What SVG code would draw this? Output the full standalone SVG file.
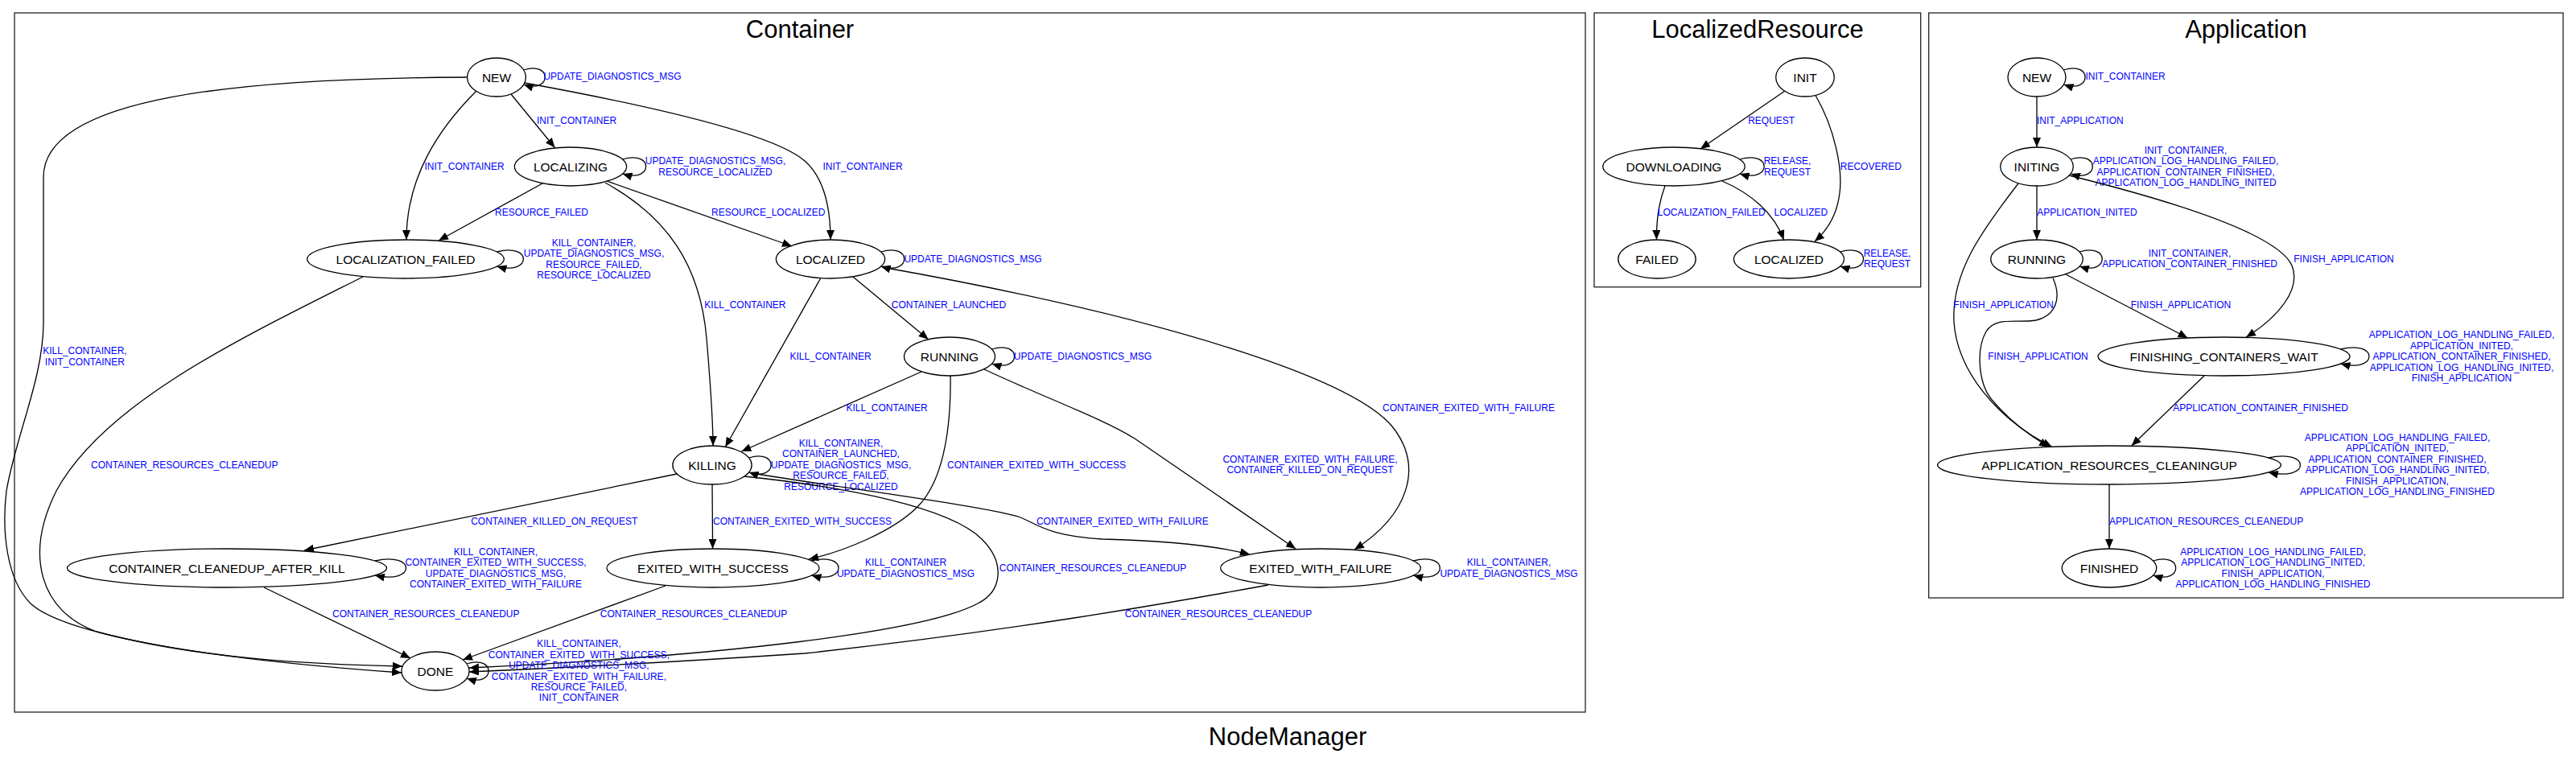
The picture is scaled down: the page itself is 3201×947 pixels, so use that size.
<svg xmlns="http://www.w3.org/2000/svg" width="3201" height="947" viewBox="0 0 3201 947">
<defs>
<marker id="ah" markerUnits="userSpaceOnUse" markerWidth="12" markerHeight="10" refX="12" refY="5" orient="auto">
<path d="M0,0 L12,5 L0,10 z" fill="#000"/>
</marker>
<style>
.cl{fill:none;stroke:#222;stroke-width:1.3}
.tt{font-family:"Liberation Sans",Arial,sans-serif;font-size:31px;fill:#000;text-anchor:middle}
.n ellipse{fill:none;stroke:#000;stroke-width:1.3}
.n text{font-family:"Liberation Sans",Arial,sans-serif;font-size:15.5px;fill:#000;text-anchor:middle}
.e{fill:none;stroke:#000;stroke-width:1.3;marker-end:url(#ah)}
.el{font-family:"Liberation Sans",Arial,sans-serif;font-size:12px;fill:#0000ff;text-anchor:middle}
</style>
</defs>
<rect width="3201" height="947" fill="#fff"/>

<g id="cluster-container">
<rect class="cl" x="18" y="16" width="1952" height="869"/>
<text class="tt" x="994" y="46.7">Container</text>
</g>
<g id="cluster-localizedresource">
<rect class="cl" x="1981" y="16" width="405.7" height="340.7"/>
<text class="tt" x="2184" y="46.7">LocalizedResource</text>
</g>
<g id="cluster-application">
<rect class="cl" x="2396.7" y="16" width="788.3" height="727"/>
<text class="tt" x="2791" y="46.7">Application</text>
</g>
<text class="tt" x="1600" y="926">NodeManager</text>

<g id="connectors">
<!-- Container -->
<path class="e" d="M650.7,87 C686,75 686,117 650.7,105"/>
<text class="el" x="761" y="99.3">UPDATE_DIAGNOSTICS_MSG</text>

<path class="e" d="M635,117 L689.5,183.5"/>
<text class="el" x="716.5" y="154">INIT_CONTAINER</text>

<path class="e" d="M592,113 C545,160 505,220 505,298"/>
<text class="el" x="577" y="211">INIT_CONTAINER</text>

<path class="e" d="M580,96 C300,97 54,120 54,220 L54,400 C54,470 20,540 8,610 C2,660 8,720 38,750 C70,780 200,815 499,836"/>
<text class="el"><tspan x="105.4" y="440.3">KILL_CONTAINER,</tspan><tspan x="105.4" y="453.6">INIT_CONTAINER</tspan></text>

<path class="e" d="M652,103 C800,130 960,165 1000,200 C1025,222 1032,262 1032,298"/>
<text class="el" x="1072" y="211">INIT_CONTAINER</text>

<path class="e" d="M773.5,198 C812.3,186 812.3,228 773.5,216"/>
<text class="el"><tspan x="889" y="204.3">UPDATE_DIAGNOSTICS_MSG,</tspan><tspan x="889" y="217.6">RESOURCE_LOCALIZED</tspan></text>

<path class="e" d="M674,228 L545,299"/>
<text class="el" x="673" y="267.6">RESOURCE_FAILED</text>

<path class="e" d="M754,225 L984,306"/>
<text class="el" x="954.7" y="267.6">RESOURCE_LOCALIZED</text>

<path class="e" d="M752,227 C830,270 870,330 878,420 C883,480 886,520 886,554"/>
<text class="el" x="925.9" y="383.3">KILL_CONTAINER</text>

<path class="e" d="M617.4,313 C661.3,301 661.3,343 617.4,331"/>
<text class="el"><tspan x="738" y="306">KILL_CONTAINER,</tspan><tspan x="738" y="319.3">UPDATE_DIAGNOSTICS_MSG,</tspan><tspan x="738" y="332.6">RESOURCE_FAILED,</tspan><tspan x="738" y="345.9">RESOURCE_LOCALIZED</tspan></text>

<path class="e" d="M1094.7,313 C1133.3,301 1133.3,343 1094.7,331"/>
<text class="el" x="1209" y="326">UPDATE_DIAGNOSTICS_MSG</text>

<path class="e" d="M1060,344 L1153.6,421.7"/>
<text class="el" x="1179" y="383.3">CONTAINER_LAUNCHED</text>

<path class="e" d="M1019.6,346 L901.3,555.5"/>
<text class="el" x="1032" y="447">KILL_CONTAINER</text>

<path class="e" d="M1096,332 C1450,395 1680,470 1730,530 C1770,580 1750,640 1683,683"/>
<text class="el" x="1825" y="511">CONTAINER_EXITED_WITH_FAILURE</text>

<path class="e" d="M1232.4,434 C1269.9,422 1269.9,464 1232.4,452"/>
<text class="el" x="1345.4" y="447">UPDATE_DIAGNOSTICS_MSG</text>

<path class="e" d="M1145,462 L921.4,561"/>
<text class="el" x="1102" y="511">KILL_CONTAINER</text>

<path class="e" d="M1181,467 C1182,540 1170,600 1140,630 C1110,660 1050,685 1005,695"/>
<text class="el" x="1288" y="582.3">CONTAINER_EXITED_WITH_SUCCESS</text>

<path class="e" d="M1223,459 C1300,495 1370,520 1410,545 L1610,682"/>
<text class="el"><tspan x="1628" y="575">CONTAINER_EXITED_WITH_FAILURE,</tspan><tspan x="1628" y="588.3">CONTAINER_KILLED_ON_REQUEST</tspan></text>

<path class="e" d="M930.5,569 C967.3,557 967.3,599 930.5,587"/>
<text class="el"><tspan x="1045" y="555">KILL_CONTAINER,</tspan><tspan x="1045" y="568.4">CONTAINER_LAUNCHED,</tspan><tspan x="1045" y="581.8">UPDATE_DIAGNOSTICS_MSG,</tspan><tspan x="1045" y="595.2">RESOURCE_FAILED,</tspan><tspan x="1045" y="608.6">RESOURCE_LOCALIZED</tspan></text>

<path class="e" d="M841,589 L378,684"/>
<text class="el" x="688.8" y="651.6">CONTAINER_KILLED_ON_REQUEST</text>

<path class="e" d="M885,602 L885.6,682"/>
<text class="el" x="997" y="651.6">CONTAINER_EXITED_WITH_SUCCESS</text>

<path class="e" d="M934,588 C1050,607 1230,630 1268,643 C1290,652 1300,665 1370,670 C1450,672 1510,678 1553,689"/>
<text class="el" x="1394.8" y="651.6">CONTAINER_EXITED_WITH_FAILURE</text>

<path class="e" d="M925,592 C1050,605 1180,630 1220,670 C1250,700 1245,735 1215,750 C1150,785 900,815 583,830"/>
<text class="el" x="1358" y="710.3">CONTAINER_RESOURCES_CLEANEDUP</text>

<path class="e" d="M1008.4,697 C1053.2,685 1053.2,727 1008.4,715"/>
<text class="el"><tspan x="1125.5" y="703.3">KILL_CONTAINER</tspan><tspan x="1125.5" y="716.7">UPDATE_DIAGNOSTICS_MSG</tspan></text>

<path class="e" d="M827,728 L575,820"/>
<text class="el" x="862" y="767">CONTAINER_RESOURCES_CLEANEDUP</text>

<path class="e" d="M1756.2,697 C1800.3,685 1800.3,727 1756.2,715"/>
<text class="el"><tspan x="1875" y="703.3">KILL_CONTAINER,</tspan><tspan x="1875" y="716.7">UPDATE_DIAGNOSTICS_MSG</tspan></text>

<path class="e" d="M1576,727 C1450,750 1250,785 1000,812 C850,822 700,830 583,835"/>
<text class="el" x="1514" y="767">CONTAINER_RESOURCES_CLEANEDUP</text>

<path class="e" d="M466,697 C517.3,685 517.3,727 466,715"/>
<text class="el"><tspan x="616" y="690">KILL_CONTAINER,</tspan><tspan x="616" y="703.4">CONTAINER_EXITED_WITH_SUCCESS,</tspan><tspan x="616" y="716.8">UPDATE_DIAGNOSTICS_MSG,</tspan><tspan x="616" y="730.2">CONTAINER_EXITED_WITH_FAILURE</tspan></text>

<path class="e" d="M328,730 L510,818"/>
<text class="el" x="529.3" y="767">CONTAINER_RESOURCES_CLEANEDUP</text>

<path class="e" d="M580,825 C616.1,813 616.1,855 580,843"/>
<text class="el"><tspan x="719.4" y="804.3">KILL_CONTAINER,</tspan><tspan x="719.4" y="817.7">CONTAINER_EXITED_WITH_SUCCESS,</tspan><tspan x="719.4" y="831.1">UPDATE_DIAGNOSTICS_MSG,</tspan><tspan x="719.4" y="844.5">CONTAINER_EXITED_WITH_FAILURE,</tspan><tspan x="719.4" y="857.9">RESOURCE_FAILED,</tspan><tspan x="719.4" y="871.3">INIT_CONTAINER</tspan></text>

<path class="e" d="M451,344 C300,420 130,500 70,610 C30,690 50,760 120,785 C250,820 400,826 500,828"/>
<text class="el" x="229.3" y="581.6">CONTAINER_RESOURCES_CLEANEDUP</text>

<!-- LocalizedResource -->
<path class="e" d="M2218,113 L2113,185"/>
<text class="el" x="2201.2" y="154">REQUEST</text>

<path class="e" d="M2256,118.5 C2280,160 2290,210 2286,240 C2283,265 2272,285 2255,300"/>
<text class="el" x="2324.8" y="211">RECOVERED</text>

<path class="e" d="M2161.8,198 C2202.3,186 2202.3,228 2161.8,216"/>
<text class="el"><tspan x="2221" y="204.3">RELEASE,</tspan><tspan x="2221" y="217.6">REQUEST</tspan></text>

<path class="e" d="M2069,231 C2062,250 2058,270 2058.5,298"/>
<text class="el" x="2126.7" y="267.6">LOCALIZATION_FAILED</text>

<path class="e" d="M2140,225 C2175,240 2205,265 2216.5,298"/>
<text class="el" x="2237.8" y="267.6">LOCALIZED</text>

<path class="e" d="M2286.5,313 C2325.2,301 2325.2,343 2286.5,331"/>
<text class="el"><tspan x="2345" y="318.6">RELEASE,</tspan><tspan x="2345" y="332">REQUEST</tspan></text>

<!-- Application -->
<path class="e" d="M2564.4,87 C2599.9,75 2599.9,117 2564.4,105"/>
<text class="el" x="2641" y="99.3">INIT_CONTAINER</text>

<path class="e" d="M2531,120 L2531,183"/>
<text class="el" x="2584.8" y="154">INIT_APPLICATION</text>

<path class="e" d="M2573,198 C2609.4,186 2609.4,228 2573,216"/>
<text class="el"><tspan x="2716" y="191">INIT_CONTAINER,</tspan><tspan x="2716" y="204.4">APPLICATION_LOG_HANDLING_FAILED,</tspan><tspan x="2716" y="217.8">APPLICATION_CONTAINER_FINISHED,</tspan><tspan x="2716" y="231.2">APPLICATION_LOG_HANDLING_INITED</tspan></text>

<path class="e" d="M2531,231 L2531,298"/>
<text class="el" x="2593.4" y="267.6">APPLICATION_INITED</text>

<path class="e" d="M2571,218 C2700,250 2830,290 2848,330 C2860,360 2830,395 2791,419"/>
<text class="el" x="2912.5" y="326">FINISH_APPLICATION</text>

<path class="e" d="M2508,228 C2460,290 2425,340 2428,400 C2432,460 2480,520 2550,555.5"/>
<text class="el" x="2489.6" y="382.6">FINISH_APPLICATION</text>

<path class="e" d="M2584,313 C2621.6,301 2621.6,343 2584,331"/>
<text class="el"><tspan x="2721" y="318.6">INIT_CONTAINER,</tspan><tspan x="2721" y="332">APPLICATION_CONTAINER_FINISHED</tspan></text>

<path class="e" d="M2567,341 L2718.5,420"/>
<text class="el" x="2710" y="382.6">FINISH_APPLICATION</text>

<path class="e" d="M2551,345.5 C2562,370 2555,392 2530,398 C2505,402 2480,393 2468,412 C2455,435 2458,480 2478,500 C2495,520 2520,540 2546,555.5"/>
<text class="el" x="2532.5" y="446.6">FINISH_APPLICATION</text>

<path class="e" d="M2908.5,434 C2955.7,422 2955.7,464 2908.5,452"/>
<text class="el"><tspan x="3059" y="420.3">APPLICATION_LOG_HANDLING_FAILED,</tspan><tspan x="3059" y="433.7">APPLICATION_INITED,</tspan><tspan x="3059" y="447.1">APPLICATION_CONTAINER_FINISHED,</tspan><tspan x="3059" y="460.5">APPLICATION_LOG_HANDLING_INITED,</tspan><tspan x="3059" y="473.9">FINISH_APPLICATION</tspan></text>

<path class="e" d="M2739,467 L2648.7,554"/>
<text class="el" x="2809" y="511">APPLICATION_CONTAINER_FINISHED</text>

<path class="e" d="M2818.8,569 C2871.6,557 2871.6,599 2818.8,587"/>
<text class="el"><tspan x="2979" y="548">APPLICATION_LOG_HANDLING_FAILED,</tspan><tspan x="2979" y="561.4">APPLICATION_INITED,</tspan><tspan x="2979" y="574.8">APPLICATION_CONTAINER_FINISHED,</tspan><tspan x="2979" y="588.2">APPLICATION_LOG_HANDLING_INITED,</tspan><tspan x="2979" y="601.6">FINISH_APPLICATION,</tspan><tspan x="2979" y="615">APPLICATION_LOG_HANDLING_FINISHED</tspan></text>

<path class="e" d="M2621,602 L2621,682"/>
<text class="el" x="2741.7" y="652">APPLICATION_RESOURCES_CLEANEDUP</text>

<path class="e" d="M2675.4,697 C2713.1,685 2713.1,727 2675.4,715"/>
<text class="el"><tspan x="2824.5" y="690">APPLICATION_LOG_HANDLING_FAILED,</tspan><tspan x="2824.5" y="703.4">APPLICATION_LOG_HANDLING_INITED,</tspan><tspan x="2824.5" y="716.8">FINISH_APPLICATION,</tspan><tspan x="2824.5" y="730.2">APPLICATION_LOG_HANDLING_FINISHED</tspan></text>
</g>

<g id="c-new" class="n"><ellipse cx="617" cy="96" rx="36.4" ry="24"/><text x="617" y="101.6">NEW</text></g>
<g id="c-localizing" class="n"><ellipse cx="709" cy="207" rx="69.6" ry="24"/><text x="709" y="212.6">LOCALIZING</text></g>
<g id="c-localization-failed" class="n"><ellipse cx="504" cy="322" rx="122.3" ry="24"/><text x="504" y="327.6">LOCALIZATION_FAILED</text></g>
<g id="c-localized" class="n"><ellipse cx="1032" cy="322" rx="67.6" ry="24"/><text x="1032" y="327.6">LOCALIZED</text></g>
<g id="c-running" class="n"><ellipse cx="1180" cy="443" rx="56.5" ry="24"/><text x="1180" y="448.6">RUNNING</text></g>
<g id="c-killing" class="n"><ellipse cx="885" cy="578" rx="49.1" ry="24"/><text x="885" y="583.6">KILLING</text></g>
<g id="c-cleanedup-after-kill" class="n"><ellipse cx="282" cy="706" rx="198.5" ry="24"/><text x="282" y="711.6">CONTAINER_CLEANEDUP_AFTER_KILL</text></g>
<g id="c-exited-with-success" class="n"><ellipse cx="886" cy="706" rx="132" ry="24"/><text x="886" y="711.6">EXITED_WITH_SUCCESS</text></g>
<g id="c-exited-with-failure" class="n"><ellipse cx="1641" cy="706" rx="124.3" ry="24"/><text x="1641" y="711.6">EXITED_WITH_FAILURE</text></g>
<g id="c-done" class="n"><ellipse cx="541" cy="834" rx="42.1" ry="24"/><text x="541" y="839.6">DONE</text></g>

<g id="lr-init" class="n"><ellipse cx="2243" cy="96" rx="36.3" ry="24"/><text x="2243" y="101.6">INIT</text></g>
<g id="lr-downloading" class="n"><ellipse cx="2080" cy="207" rx="88.2" ry="24"/><text x="2080" y="212.6">DOWNLOADING</text></g>
<g id="lr-failed" class="n"><ellipse cx="2059" cy="322" rx="48.2" ry="24"/><text x="2059" y="327.6">FAILED</text></g>
<g id="lr-localized" class="n"><ellipse cx="2223" cy="322" rx="68.5" ry="24"/><text x="2223" y="327.6">LOCALIZED</text></g>

<g id="a-new" class="n"><ellipse cx="2531" cy="96" rx="36" ry="24"/><text x="2531" y="101.6">NEW</text></g>
<g id="a-initing" class="n"><ellipse cx="2531" cy="207" rx="45.3" ry="24"/><text x="2531" y="212.6">INITING</text></g>
<g id="a-running" class="n"><ellipse cx="2531" cy="322" rx="57.2" ry="24"/><text x="2531" y="327.6">RUNNING</text></g>
<g id="a-finishing-containers-wait" class="n"><ellipse cx="2763.5" cy="443" rx="156.5" ry="24"/><text x="2763.5" y="448.6">FINISHING_CONTAINERS_WAIT</text></g>
<g id="a-application-resources-cleaningup" class="n"><ellipse cx="2621" cy="578" rx="213.4" ry="24"/><text x="2621" y="583.6">APPLICATION_RESOURCES_CLEANINGUP</text></g>
<g id="a-finished" class="n"><ellipse cx="2621" cy="706" rx="58.7" ry="24"/><text x="2621" y="711.6">FINISHED</text></g>
</svg>
